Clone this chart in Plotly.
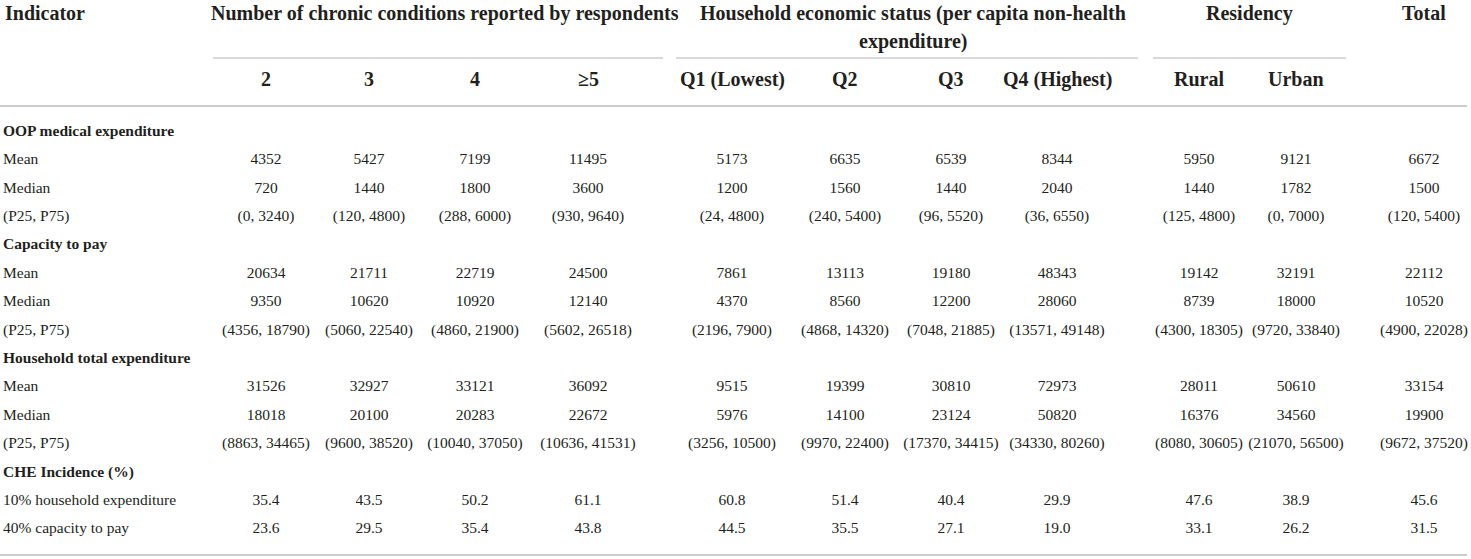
import plotly.graph_objects as go

# ------------------- Datos -------------------
columnas = ["2", "3", "4", "≥5", "Q1 (Lowest)", "Q2", "Q3", "Q4 (Highest)", "Rural", "Urban", "Total"]
grupos = ["Number of chronic conditions reported by respondents",
          "Household economic status (per capita non-health", "Residency"]

filas = ["OOP medical expenditure", "Mean", "Median", "(P25, P75)",
         "Capacity to pay", "Mean", "Median", "(P25, P75)",
         "Household total expenditure", "Mean", "Median", "(P25, P75)",
         "CHE Incidence (%)", "10% household expenditure", "40% capacity to pay"]
secciones = ["OOP medical expenditure", "Capacity to pay", "Household total expenditure", "CHE Incidence (%)"]

oop_mean = [4352, 5427, 7199, 11495, 5173, 6635, 6539, 8344, 5950, 9121, 6672]
oop_median = [720, 1440, 1800, 3600, 1200, 1560, 1440, 2040, 1440, 1782, 1500]
oop_p25 = [0, 120, 288, 930, 24, 240, 96, 36, 125, 0, 120]
oop_p75 = [3240, 4800, 6000, 9640, 4800, 5400, 5520, 6550, 4800, 7000, 5400]

ctp_mean = [20634, 21711, 22719, 24500, 7861, 13113, 19180, 48343, 19142, 32191, 22112]
ctp_median = [9350, 10620, 10920, 12140, 4370, 8560, 12200, 28060, 8739, 18000, 10520]
ctp_p25 = [4356, 5060, 4860, 5602, 2196, 4868, 7048, 13571, 4300, 9720, 4900]
ctp_p75 = [18790, 22540, 21900, 26518, 7900, 14320, 21885, 49148, 18305, 33840, 22028]

hte_mean = [31526, 32927, 33121, 36092, 9515, 19399, 30810, 72973, 28011, 50610, 33154]
hte_median = [18018, 20100, 20283, 22672, 5976, 14100, 23124, 50820, 16376, 34560, 19900]
hte_p25 = [8863, 9600, 10040, 10636, 3256, 9970, 17370, 34330, 8080, 21070, 9672]
hte_p75 = [34465, 38520, 37050, 41531, 10500, 22400, 34415, 80260, 30605, 56500, 37520]

che_10 = [35.4, 43.5, 50.2, 61.1, 60.8, 51.4, 40.4, 29.9, 47.6, 38.9, 45.6]
che_40 = [23.6, 29.5, 35.4, 43.8, 44.5, 35.5, 27.1, 19.0, 33.1, 26.2, 31.5]

# ------------------- Disposicion -------------------
W, H = 1471, 559
fuente = "Liberation Serif"
color_texto = "#231f20"
color_linea = "#cccccc"
x_cols = [266, 369, 475, 588, 732, 845, 951, 1057, 1199, 1296, 1424]
y_filas = [132 + 28.4 * k for k in range(len(filas))]

def celdas(j):
    # textos de una columna, en el orden de las filas
    return ["",
            str(oop_mean[j]), str(oop_median[j]), f"({oop_p25[j]}, {oop_p75[j]})",
            "",
            str(ctp_mean[j]), str(ctp_median[j]), f"({ctp_p25[j]}, {ctp_p75[j]})",
            "",
            str(hte_mean[j]), str(hte_median[j]), f"({hte_p25[j]}, {hte_p75[j]})",
            "",
            f"{che_10[j]:.1f}", f"{che_40[j]:.1f}"]

fig = go.Figure()

# Etiquetas de fila
etiquetas = [f"<b>{f}</b>" if (f in secciones and i in (0, 4, 8, 12)) else f for i, f in enumerate(filas)]
fig.add_trace(go.Scatter(x=[3] * len(filas), y=y_filas, text=etiquetas, mode="text",
                         textposition="middle right", textfont=dict(family=fuente, size=15.5, color=color_texto),
                         cliponaxis=False, showlegend=False, hoverinfo="skip"))

# Celdas de datos
for j in range(len(columnas)):
    fig.add_trace(go.Scatter(x=[x_cols[j]] * len(filas), y=y_filas, text=celdas(j), mode="text",
                             textposition="middle center",
                             textfont=dict(family=fuente, size=15.5, color=color_texto),
                             cliponaxis=False, showlegend=False, hoverinfo="skip"))

# Encabezados
def encabezado(texto, x, y, anchor="center"):
    fig.add_annotation(x=x, y=y, xref="x", yref="y", text=f"<b>{texto}</b>", showarrow=False,
                       xanchor=anchor, yanchor="middle",
                       font=dict(family=fuente, size=20, color=color_texto))

encabezado("Indicator", 3, 13, "left")
encabezado(grupos[0], 445, 13)
encabezado(grupos[1], 913, 13)
encabezado("expenditure)", 913, 41)
encabezado(grupos[2], 1249, 13)
encabezado("Total", 1424, 13)
for j, c in enumerate(columnas[:-1]):
    encabezado(c, x_cols[j], 79)

# Lineas
for x0, x1 in [(213, 663), (676, 1138), (1153, 1346)]:
    fig.add_shape(type="line", x0=x0, x1=x1, y0=58, y1=58, xref="x", yref="y",
                  line=dict(color=color_linea, width=1.5))
for y in [106, 555]:
    fig.add_shape(type="line", x0=0, x1=1467, y0=y, y1=y, xref="x", yref="y",
                  line=dict(color=color_linea, width=2))

fig.update_layout(width=W, height=H, margin=dict(l=0, r=0, t=0, b=0),
                  paper_bgcolor="white", plot_bgcolor="white",
                  xaxis=dict(range=[0, W], visible=False, fixedrange=True),
                  yaxis=dict(range=[H, 0], visible=False, fixedrange=True))

# quitar el margen del <body> para que la tabla ocupe la ventana entera
fig.write_html("out.html", config={"displayModeBar": False},
               post_script="document.body.style.margin='0px'; document.body.style.overflow='hidden';")
